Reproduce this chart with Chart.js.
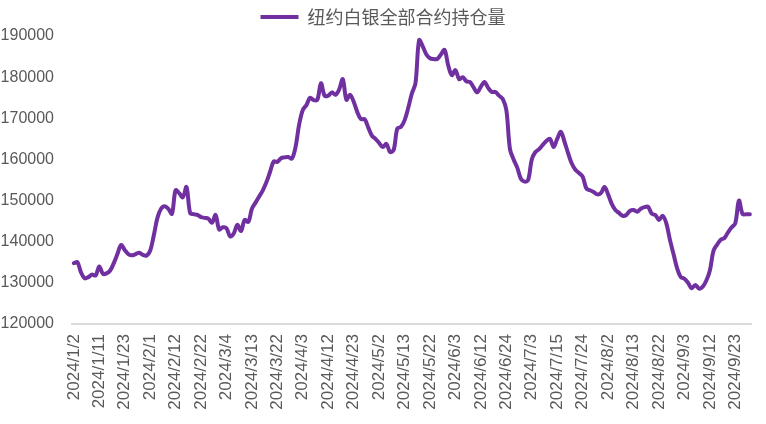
<!DOCTYPE html>
<html>
<head>
<meta charset="utf-8">
<script src="https://cdn.jsdelivr.net/npm/chart.js@4.4.1/dist/chart.umd.min.js"></script>
<style>
  html, body { margin: 0; padding: 0; background: #fff; }
  #wrap { width: 766px; height: 424px; }
</style>
</head>
<body>
<div id="wrap"><canvas id="oiChart" width="766" height="424"></canvas></div>
<script>
// trading days, 2024
const dates = [
  '2024/1/2','2024/1/3','2024/1/4','2024/1/5','2024/1/8','2024/1/9','2024/1/10','2024/1/11','2024/1/12','2024/1/16',
  '2024/1/17','2024/1/18','2024/1/19','2024/1/22','2024/1/23','2024/1/24','2024/1/25','2024/1/26','2024/1/29','2024/1/30',
  '2024/1/31','2024/2/1','2024/2/2','2024/2/5','2024/2/6','2024/2/7','2024/2/8','2024/2/9','2024/2/12','2024/2/13',
  '2024/2/14','2024/2/15','2024/2/16','2024/2/20','2024/2/21','2024/2/22','2024/2/23','2024/2/26','2024/2/27','2024/2/28',
  '2024/2/29','2024/3/1','2024/3/4','2024/3/5','2024/3/6','2024/3/7','2024/3/8','2024/3/11','2024/3/12','2024/3/13',
  '2024/3/14','2024/3/15','2024/3/18','2024/3/19','2024/3/20','2024/3/21','2024/3/22','2024/3/25','2024/3/26','2024/3/27',
  '2024/3/28','2024/4/1','2024/4/2','2024/4/3','2024/4/4','2024/4/5','2024/4/8','2024/4/9','2024/4/10','2024/4/11',
  '2024/4/12','2024/4/15','2024/4/16','2024/4/17','2024/4/18','2024/4/19','2024/4/22','2024/4/23','2024/4/24','2024/4/25',
  '2024/4/26','2024/4/29','2024/4/30','2024/5/1','2024/5/2','2024/5/3','2024/5/6','2024/5/7','2024/5/8','2024/5/9',
  '2024/5/10','2024/5/13','2024/5/14','2024/5/15','2024/5/16','2024/5/17','2024/5/20','2024/5/21','2024/5/22','2024/5/23',
  '2024/5/24','2024/5/28','2024/5/29','2024/5/30','2024/5/31','2024/6/3','2024/6/4','2024/6/5','2024/6/6','2024/6/7',
  '2024/6/10','2024/6/11','2024/6/12','2024/6/13','2024/6/14','2024/6/17','2024/6/18','2024/6/20','2024/6/21','2024/6/24',
  '2024/6/25','2024/6/26','2024/6/27','2024/6/28','2024/7/1','2024/7/2','2024/7/3','2024/7/5','2024/7/8','2024/7/9',
  '2024/7/10','2024/7/11','2024/7/12','2024/7/15','2024/7/16','2024/7/17','2024/7/18','2024/7/19','2024/7/22','2024/7/23',
  '2024/7/24','2024/7/25','2024/7/26','2024/7/29','2024/7/30','2024/7/31','2024/8/1','2024/8/2','2024/8/5','2024/8/6',
  '2024/8/7','2024/8/8','2024/8/9','2024/8/12','2024/8/13','2024/8/14','2024/8/15','2024/8/16','2024/8/19','2024/8/20',
  '2024/8/21','2024/8/22','2024/8/23','2024/8/26','2024/8/27','2024/8/28','2024/8/29','2024/8/30','2024/9/3','2024/9/4',
  '2024/9/5','2024/9/6','2024/9/9','2024/9/10','2024/9/11','2024/9/12','2024/9/13','2024/9/16','2024/9/17','2024/9/18',
  '2024/9/19','2024/9/20','2024/9/23','2024/9/24','2024/9/25','2024/9/26','2024/9/27'
];

// 纽约白银全部合约持仓量 (contracts)
const openInterest = [
  134800,135000,132500,131100,131400,132000,131800,134000,132200,132300,
  133000,134800,137000,139200,138000,137000,136700,137000,137300,136800,
  136600,137800,141500,145800,148000,148600,148000,146800,152500,151800,
  150800,153300,147000,146700,146500,146000,145800,145600,144600,146500,
  143000,143500,143300,141300,142000,144100,142600,145300,144800,148000,
  149500,151000,152500,154500,157000,159500,159400,160300,160500,160600,
  160200,163000,168500,172000,173200,175000,174400,174500,178500,175500,
  175500,176300,175700,177000,179500,174500,175700,174000,171500,169800,
  169800,167800,165800,165000,164000,163000,163800,161800,162300,167500,
  167900,169500,172500,176000,178500,189000,187500,185500,184600,184400,
  184400,185500,186600,182900,180500,181700,179500,180000,179000,178800,
  177500,176300,177700,178800,177400,176400,176400,175500,174700,172000,
  162500,160000,158000,155300,154600,155000,160000,161800,162500,163500,
  164500,165000,163000,165000,166700,164300,161500,159000,157500,156700,
  155800,153000,152500,152100,151500,151800,153300,151500,149200,147700,
  147000,146300,146500,147500,147700,147300,148000,148400,148500,146800,
  146500,145300,146300,144500,140500,137000,133500,131400,131000,130000,
  128700,129500,128600,129000,130500,133000,137800,139300,140500,140900,
  142300,143500,144500,150000,146700,146700,146700
];

const seriesName = '纽约白银全部合约持仓量';
const labelStep = 7;       // one date label every 7 trading days
const yMin = 120000;
const yMax = 190000;
const yStep = 10000;

const PURPLE = '#7030A0';
const TEXT = '#595959';

new Chart(document.getElementById('oiChart'), {
    type: 'line',
    data: {
        labels: dates,
        datasets: [{
            label: seriesName,
            data: openInterest,
            borderColor: PURPLE,
            backgroundColor: PURPLE,
            borderWidth: 4,
            borderCapStyle: 'round',
            borderJoinStyle: 'round',
            pointRadius: 0,
            tension: 0.35,
            fill: false,
        }]
    },
    options: {
        responsive: false,
        animation: false,
        layout: { padding: { left: 0, right: 0, top: 2, bottom: 0 } },
        plugins: {
            legend: {
                position: 'top',
                labels: {
                    color: TEXT,
                    font: { family: "'Noto Sans CJK SC', sans-serif", size: 18 },
                    usePointStyle: true,
                    pointStyle: 'line',
                    pointStyleWidth: 38,
                    padding: 6,
                }
            },
            tooltip: { enabled: false }
        },
        scales: {
            x: {
                offset: true,
                grid: { display: false, drawTicks: false },
                border: { display: true, color: '#D9D9D9', width: 2 },
                ticks: {
                    autoSkip: false,
                    minRotation: 90,
                    maxRotation: 90,
                    padding: 10,
                    color: TEXT,
                    font: { family: "'Liberation Sans', sans-serif", size: 17 },
                    callback: (val, i) => (i % labelStep === 0 ? dates[i] : null)
                },
                afterFit: s => { s.height = 100; }
            },
            y: {
                min: yMin,
                max: yMax,
                grid: { display: false, drawTicks: false },
                border: { display: false },
                ticks: {
                    stepSize: yStep,
                    padding: 18,
                    color: TEXT,
                    font: { family: "'Liberation Sans', sans-serif", size: 16 },
                    callback: v => String(v)
                },
                afterFit: s => { s.width = 72; }
            },
            // empty right-hand spacer so the plot stops short of the edge
            // while the legend stays centred on the full canvas
            spacer: {
                type: 'linear',
                position: 'right',
                min: 0,
                max: 1,
                grid: { display: false, drawTicks: false },
                border: { display: false },
                ticks: { display: false },
                afterFit: s => { s.width = 12; }
            }
        }
    }
});
</script>
</body>
</html>
